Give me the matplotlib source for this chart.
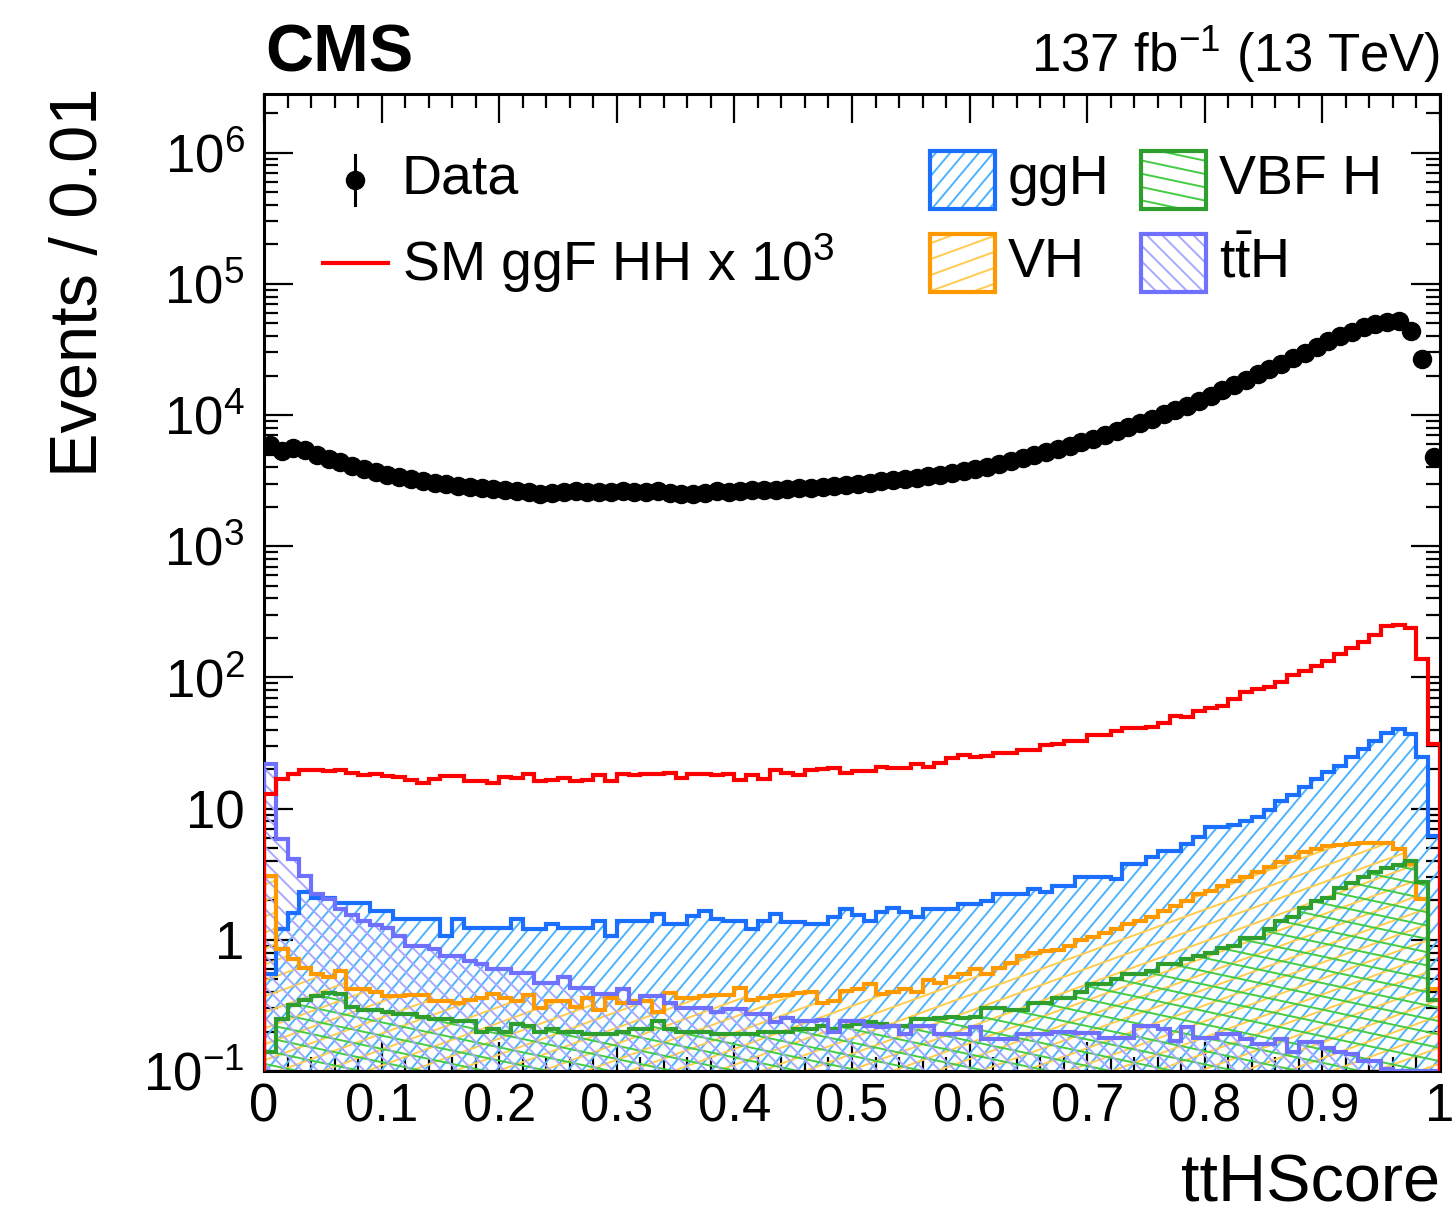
import numpy as np
import matplotlib
matplotlib.use('Agg')
import matplotlib.pyplot as plt
from matplotlib.collections import LineCollection
from matplotlib.patches import Rectangle
from matplotlib.ticker import FixedLocator, LogLocator, MultipleLocator, FuncFormatter, NullFormatter

plt.rcParams['font.family'] = ['Liberation Sans', 'DejaVu Sans']
plt.rcParams['mathtext.fontset'] = 'custom'
plt.rcParams['mathtext.rm'] = 'Liberation Sans'
plt.rcParams['mathtext.it'] = 'Liberation Sans:italic'
plt.rcParams['mathtext.bf'] = 'Liberation Sans:bold'

# 100 bins of width 0.01 in ttHScore
edges = np.linspace(0.0, 1.0, 101)

data = [5950, 5300, 5600, 5450, 5000, 4600, 4350, 4100, 3850, 3650,
        3480, 3350, 3240, 3140, 3050, 2970, 2900, 2840, 2780, 2740,
        2700, 2650, 2600, 2520, 2540, 2600, 2620, 2590, 2610, 2580,
        2620, 2600, 2580, 2620, 2560, 2520, 2480, 2560, 2620, 2600,
        2640, 2680, 2660, 2700, 2720, 2760, 2800, 2830, 2870, 2940,
        3000, 3060, 3120, 3190, 3260, 3340, 3420, 3510, 3610, 3730,
        3860, 4050, 4250, 4470, 4700, 4940, 5210, 5510, 5830, 6190,
        6610, 7080, 7590, 8130, 8710, 9380, 10100, 10900, 11750, 12700,
        14000, 15400, 16900, 18600, 20400, 22400, 24600, 27000, 29800, 33000,
        36500, 39800, 43200, 46500, 49300, 51300, 51880, 43650, 26920, 4790]

hh_x1000 = [12.9, 16.8, 18.3, 19.6, 19.6, 19.2, 19.6, 18.8, 18.1, 18.5,
            17.8, 17.3, 16.6, 15.8, 16.8, 17.8, 17.8, 16.3, 16.3, 15.7,
            17.3, 17.1, 18.5, 16.3, 16.6, 17.1, 16.1, 16.5, 18.1, 16.3,
            18.3, 18.1, 18.5, 18.5, 18.6, 17.0, 18.3, 18.3, 17.9, 18.5,
            16.5, 17.9, 16.8, 19.6, 18.8, 18.1, 19.8, 20.0, 20.3, 18.8,
            19.2, 19.2, 20.9, 20.4, 20.4, 21.9, 20.9, 22.1, 24.2, 25.7,
            24.6, 25.3, 26.4, 26.4, 28.0, 28.0, 30.7, 31.1, 32.9, 32.9,
            36.6, 36.6, 38.8, 40.9, 40.9, 41.6, 44.9, 50.8, 49.6, 55.8,
            58.1, 60.9, 68.5, 77.0, 81.6, 85.0, 91.7, 105, 111, 123,
            134, 150, 169, 185, 211, 245, 252, 240, 138, 31]

ggh = [0.55, 1.2, 1.6, 2.3, 2.1, 2.1, 1.9, 1.9, 1.9, 1.66,
       1.66, 1.44, 1.44, 1.44, 1.44, 1.07, 1.44, 1.24, 1.24, 1.24,
       1.24, 1.44, 1.21, 1.21, 1.33, 1.24, 1.24, 1.24, 1.40, 1.07,
       1.40, 1.40, 1.40, 1.57, 1.32, 1.32, 1.52, 1.66, 1.44, 1.40,
       1.40, 1.21, 1.40, 1.57, 1.36, 1.36, 1.32, 1.32, 1.48, 1.71,
       1.55, 1.40, 1.62, 1.76, 1.62, 1.48, 1.71, 1.71, 1.71, 1.87,
       1.87, 1.98, 2.23, 2.23, 2.23, 2.44, 2.30, 2.58, 2.58, 2.99,
       2.99, 2.99, 2.90, 3.78, 3.78, 4.25, 4.77, 4.77, 5.37, 6.04,
       7.2, 7.2, 7.5, 8.0, 8.6, 9.7, 11.5, 12.6, 14.5, 16.8,
       18.9, 21.3, 24.6, 28.5, 33.0, 38.0, 40.5, 37.0, 24.6, 6.2]

vh = [3.08, 0.85, 0.71, 0.61, 0.55, 0.52, 0.58, 0.42, 0.42, 0.40,
      0.37, 0.37, 0.38, 0.38, 0.34, 0.34, 0.33, 0.35, 0.36, 0.385,
      0.36, 0.34, 0.38, 0.30, 0.34, 0.34, 0.31, 0.36, 0.29, 0.36,
      0.33, 0.34, 0.34, 0.28, 0.39, 0.36, 0.36, 0.37, 0.38, 0.38,
      0.43, 0.35, 0.36, 0.37, 0.38, 0.39, 0.40, 0.33, 0.34, 0.41,
      0.42, 0.46, 0.385, 0.40, 0.42, 0.40, 0.49, 0.47, 0.52, 0.55,
      0.60, 0.55, 0.61, 0.67, 0.75, 0.80, 0.82, 0.84, 0.90, 1.00,
      1.05, 1.12, 1.20, 1.32, 1.40, 1.48, 1.66, 1.82, 1.98, 2.23,
      2.36, 2.58, 2.80, 3.00, 3.27, 3.56, 3.89, 4.25, 4.64, 4.93,
      5.20, 5.30, 5.40, 5.45, 5.50, 5.50, 4.95, 3.80, 2.05, 0.42]

vbf = [0.14, 0.25, 0.32, 0.35, 0.37, 0.39, 0.385, 0.31, 0.29, 0.29,
       0.28, 0.27, 0.27, 0.26, 0.25, 0.25, 0.24, 0.24, 0.20, 0.21,
       0.20, 0.23, 0.22, 0.20, 0.21, 0.20, 0.20, 0.19, 0.19, 0.19,
       0.20, 0.21, 0.21, 0.24, 0.21, 0.20, 0.20, 0.20, 0.19, 0.19,
       0.19, 0.19, 0.20, 0.20, 0.20, 0.21, 0.21, 0.22, 0.21, 0.22,
       0.23, 0.235, 0.23, 0.22, 0.22, 0.25, 0.25, 0.255, 0.26, 0.255,
       0.26, 0.30, 0.30, 0.29, 0.29, 0.33, 0.33, 0.36, 0.36, 0.40,
       0.46, 0.46, 0.50, 0.55, 0.55, 0.58, 0.65, 0.65, 0.72, 0.75,
       0.80, 0.87, 0.90, 1.04, 1.04, 1.20, 1.40, 1.48, 1.76, 1.98,
       2.10, 2.50, 2.70, 3.00, 3.27, 3.50, 3.75, 4.00, 2.74, 0.35]

tth = [22.0, 5.9, 4.1, 3.08, 2.25, 2.04, 1.71, 1.55, 1.40, 1.30,
       1.24, 1.07, 0.90, 0.90, 0.85, 0.755, 0.755, 0.69, 0.65, 0.60,
       0.60, 0.56, 0.56, 0.47, 0.47, 0.52, 0.43, 0.43, 0.385, 0.385,
       0.42, 0.33, 0.37, 0.37, 0.33, 0.30, 0.30, 0.30, 0.28, 0.295,
       0.295, 0.27, 0.27, 0.235, 0.255, 0.24, 0.24, 0.245, 0.20, 0.24,
       0.24, 0.22, 0.215, 0.22, 0.19, 0.22, 0.22, 0.19, 0.19, 0.19,
       0.215, 0.175, 0.175, 0.175, 0.19, 0.19, 0.19, 0.20, 0.20, 0.195,
       0.195, 0.18, 0.18, 0.18, 0.22, 0.22, 0.21, 0.17, 0.215, 0.18,
       0.18, 0.19, 0.19, 0.175, 0.16, 0.16, 0.175, 0.14, 0.165, 0.165,
       0.15, 0.14, 0.134, 0.12, 0.12, 0.103, 0.0, 0.0, 0.0, 0.0]

YMIN, YMAX = 0.1, 2.8e6

# figure geometry in pixels (dpi 100)
FIG_W, FIG_H = 1455, 1214
AX_L, AX_R, AX_T, AX_B = 264, 1440, 94, 1071
AX_W, AX_H = AX_R - AX_L, AX_B - AX_T

fig = plt.figure(figsize=(FIG_W / 100, FIG_H / 100), dpi=100)
ax = fig.add_axes([AX_L / FIG_W, 1 - AX_B / FIG_H, AX_W / FIG_W, AX_H / FIG_H])
ax.set_yscale('log')
ax.set_xlim(0, 1)
ax.set_ylim(YMIN, YMAX)


def px2ax(px, py):
    return (px - AX_L) / AX_W, (AX_B - py) / AX_H


def add_hatch(clip_patch, angle, step, color, lw=1.4, z=2):
    # ROOT-like hatch: parallel lines at any angle, clipped to a patch
    t = np.deg2rad(angle)
    d = np.array([np.cos(t), np.sin(t)])
    n = np.array([-np.sin(t), np.cos(t)])
    L = AX_W + AX_H
    c = np.array([AX_W / 2, AX_H / 2])
    scale = np.array([AX_W, AX_H])
    segs = []
    for k in np.arange(-L / step, L / step + 1):
        p = c + k * step * n
        segs.append([(p - L * d) / scale, (p + L * d) / scale])
    lc = LineCollection(segs, colors=color, linewidths=lw, transform=ax.transAxes,
                        zorder=z)
    ax.add_collection(lc)
    lc.set_clip_path(clip_patch)


# name, values, line colour, hatch colour, hatch angle, hatch step (px)
samples = [
    ('ggH', ggh, '#1a6fff', '#4db3ff', 50, 11),
    ('VH', vh, '#ff9900', '#ffcc4d', 20, 15),
    ('VBF H', vbf, '#2e9e2e', '#44cc44', -12, 13),
    (r'$\mathrm{t\bar{t}H}$', tth, '#7070ff', '#a8a8ff', -45, 11),
]

for name, vals, lc_, hc, ang, step in samples:
    v = np.maximum(np.array(vals, dtype=float), YMIN)
    region = ax.stairs(v, edges, baseline=1e-3, fill=True, facecolor='none',
                       edgecolor='none')
    add_hatch(region, ang, step, hc)

for name, vals, lc_, hc, ang, step in samples:
    v = np.maximum(np.array(vals, dtype=float), YMIN)
    ax.stairs(v, edges, baseline=1e-3, fill=False, color=lc_, lw=3.0, zorder=3)

ax.stairs(hh_x1000, edges, baseline=1e-3, fill=False, color='#ff0000', lw=3.0, zorder=4)

centers = 0.5 * (edges[:-1] + edges[1:])
data_arr = np.array(data, dtype=float)
ax.errorbar(centers, data_arr, yerr=np.sqrt(data_arr), fmt='o', color='black',
            ms=13, elinewidth=2, capsize=0, zorder=5)

# axes style (ROOT-like)
for s in ax.spines.values():
    s.set_linewidth(2.2)
ax.xaxis.set_major_locator(MultipleLocator(0.1))
ax.xaxis.set_minor_locator(MultipleLocator(0.02))
ax.xaxis.set_major_formatter(FuncFormatter(lambda v, p: f'{v:g}'))

ydecades = [0.1, 1, 10, 100, 1e3, 1e4, 1e5, 1e6]
ylabels = [r'$10^{-1}$', '1', '10', r'$10^{2}$', r'$10^{3}$', r'$10^{4}$',
           r'$10^{5}$', r'$10^{6}$']
ax.yaxis.set_major_locator(FixedLocator(ydecades))
ax.set_yticklabels(ylabels)
ax.yaxis.set_minor_locator(LogLocator(base=10, subs=np.arange(2, 10), numticks=20))
ax.yaxis.set_minor_formatter(NullFormatter())

ax.tick_params(which='both', direction='in', top=True, right=True, width=1.6,
               labelsize=38)
ax.tick_params(which='major', length=21)
ax.tick_params(which='minor', length=10)
ax.tick_params(axis='x', pad=8)
ax.tick_params(axis='y', pad=14)

# titles
fig.text(265 / FIG_W, 1 - 72 / FIG_H, 'CMS', fontsize=48, fontweight='bold',
         ha='left', va='baseline')
fig.text(1440 / FIG_W, 1 - 72 / FIG_H, r'137 fb$^{-1}$ (13 TeV)', fontsize=38,
         ha='right', va='baseline')
fig.text(1440 / FIG_W, 1 - 1202 / FIG_H, 'ttHScore', fontsize=48,
         ha='right', va='baseline')
fig.text(80 / FIG_W, 1 - 88 / FIG_H, 'Events / 0.01', fontsize=48,
         rotation=90, ha='center', va='top')

# legend, drawn by hand to keep ROOT's hatch styles
LEG_FS = 40
mx, my = px2ax(355, 180)
ax.plot([mx], [my], 'o', color='black', ms=13, transform=ax.transAxes, clip_on=False)
ax.plot([mx, mx], [px2ax(0, 155)[1], px2ax(0, 205)[1]], color='black', lw=2.2,
        transform=ax.transAxes)
ax.text(*px2ax(402, 180), 'Data', fontsize=LEG_FS, ha='left', va='center',
        transform=ax.transAxes)
sx0, sy = px2ax(323, 263)
sx1, _ = px2ax(388, 263)
ax.plot([sx0, sx1], [sy, sy], color='#ff0000', lw=3.0, transform=ax.transAxes)
ax.text(*px2ax(402, 263), r'SM ggF HH x 10$^{3}$', fontsize=LEG_FS, ha='left',
        va='center', transform=ax.transAxes)

box_pos = [(930, 151), (930, 234), (1141, 151), (1141, 234)]
for (name, vals, lc_, hc, ang, step), (bx, by) in zip(samples, box_pos):
    x0, y1 = px2ax(bx, by)
    x1, y0 = px2ax(bx + 65, by + 58)
    box = Rectangle((x0, y0), x1 - x0, y1 - y0, transform=ax.transAxes,
                    facecolor='none', edgecolor=lc_, lw=3.0, zorder=7)
    ax.add_patch(box)
    add_hatch(box, ang, step, hc, z=6)
    ax.text(*px2ax(bx + 78, by + 29), name, fontsize=LEG_FS, ha='left',
            va='center', transform=ax.transAxes, zorder=7)

fig.savefig('out.png', dpi=100)
